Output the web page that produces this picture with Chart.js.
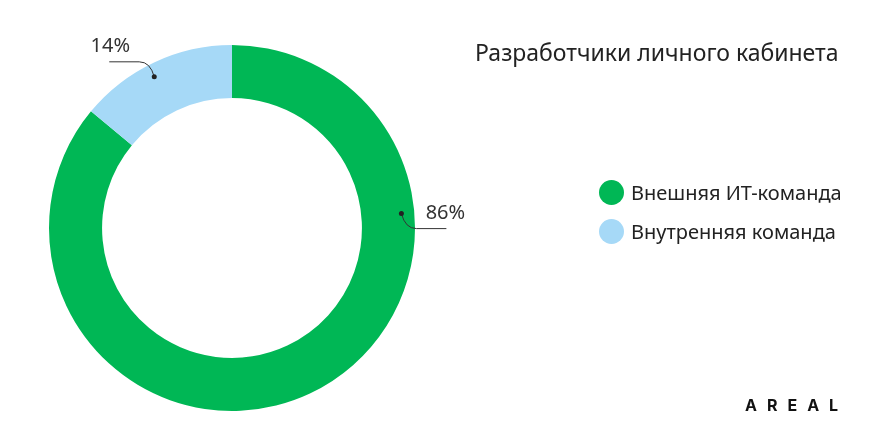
<!DOCTYPE html>
<html lang="ru">
<head>
<meta charset="utf-8">
<script src="https://cdn.jsdelivr.net/npm/chart.js@4"></script>
<style>
    html, body { margin: 0; padding: 0; background: #fff; }
    #wrap { position: relative; width: 873px; height: 440px; font-family: "Noto Sans", "Open Sans", sans-serif; color: #222; }
    #chart { position: absolute; left: 0; top: 0; }
    #title { position: absolute; left: 475px; top: 36px; font-size: 23px; white-space: nowrap; }
    #legend { position: absolute; left: 599px; top: 173px; }
    .legend-item { display: flex; align-items: center; height: 39px; font-size: 20px; white-space: nowrap; }
    .legend-dot { width: 25px; height: 25px; border-radius: 50%; margin-right: 7px; }
    #logo { position: absolute; left: 745px; top: 395px; font-family: Inter, sans-serif; font-weight: 700; font-size: 16px; letter-spacing: 10px; color: #111; }
</style>
</head>
<body>
<div id="wrap">
    <canvas id="chart" width="873" height="440"></canvas>
    <div id="title">Разработчики личного кабинета</div>
    <div id="legend"></div>
    <div id="logo">AREAL</div>
</div>
<script>
const categories = ['Внешняя ИТ-команда', 'Внутренняя команда'];
const shares = [86, 14];
const shareLabels = ['86%', '14%'];
const colors = ['#00b755', '#a6d9f7'];

// где на дуге стоит точка выноски (доля от длины дуги) и куда уходит линия
const calloutStyle = [
    { along: 0.275, side: 1 },
    { along: 0.46, side: -1 }
];

const calloutPlugin = {
    id: 'callouts',
    afterDatasetsDraw(chart) {
        const ctx = chart.ctx;
        const arcs = chart.getDatasetMeta(0).data;
        ctx.save();
        arcs.forEach((arc, i) => {
            const p = arc.getProps(['x', 'y', 'startAngle', 'endAngle', 'outerRadius'], true);
            const st = calloutStyle[i];
            const a = p.startAngle + (p.endAngle - p.startAngle) * st.along;
            const r = p.outerRadius - 13;
            const dx = p.x + Math.cos(a) * r;
            const dy = p.y + Math.sin(a) * r;
            const up = Math.sin(a) < 0 && st.side < 0;
            const ly = up ? dy - 15 : dy + 15;
            const bend = dx + st.side * 15;
            const end = dx + st.side * 45;

            ctx.strokeStyle = '#333';
            ctx.lineWidth = 1;
            ctx.beginPath();
            ctx.moveTo(dx, dy);
            ctx.quadraticCurveTo(dx + st.side * 4, ly, bend, ly);
            ctx.lineTo(end, ly);
            ctx.stroke();

            ctx.fillStyle = '#222';
            ctx.beginPath();
            ctx.arc(dx, dy, 2.5, 0, Math.PI * 2);
            ctx.fill();

            ctx.font = '20px "Noto Sans", "Open Sans", sans-serif';
            ctx.textAlign = 'center';
            ctx.textBaseline = 'alphabetic';
            ctx.fillStyle = '#333';
            ctx.fillText(shareLabels[i], end - st.side * 1, ly - 10);
        });
        ctx.restore();
    }
};

new Chart(document.getElementById('chart'), {
    type: 'doughnut',
    data: {
        labels: categories,
        datasets: [{
            data: shares,
            backgroundColor: colors,
            borderWidth: 0
        }]
    },
    options: {
        responsive: false,
        animation: false,
        cutout: '71%',
        layout: { padding: { left: 49, top: 45, right: 458, bottom: 29 } },
        plugins: {
            legend: { display: false },
            tooltip: { enabled: false }
        }
    },
    plugins: [calloutPlugin]
});

document.getElementById('legend').innerHTML = categories.map((name, i) => `
    <div class="legend-item">
        <span class="legend-dot" style="background:${colors[i]}"></span>${name}
    </div>
`).join('');
</script>
</body>
</html>
